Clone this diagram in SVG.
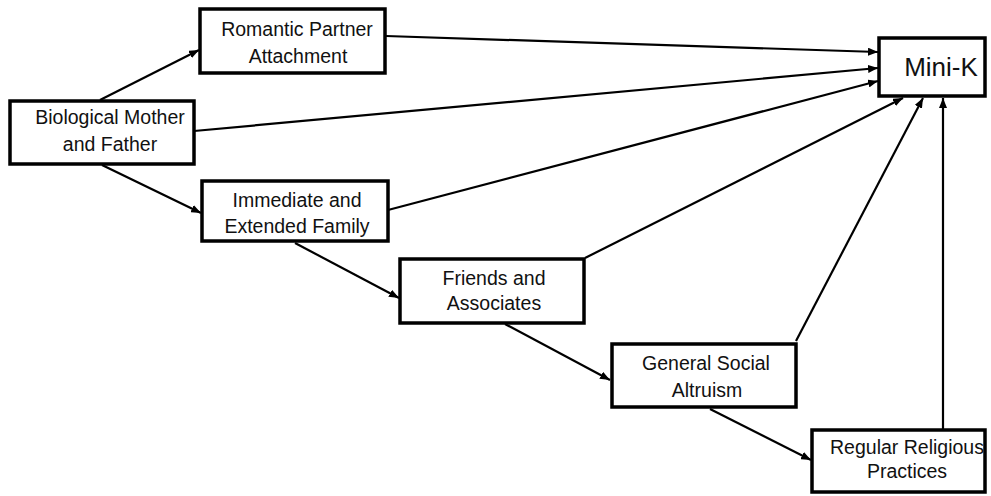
<svg xmlns="http://www.w3.org/2000/svg" width="991" height="496" viewBox="0 0 991 496">
<style>
.box{fill:#fff;stroke:#000;stroke-width:3.5}
.t{font-family:"Liberation Sans",Arial,sans-serif;font-size:19.5px;fill:#111;text-anchor:middle}
.big{font-size:26px}
.c{stroke:#000;stroke-width:2.2;fill:none;marker-end:url(#ah)}
</style>
<defs>
<marker id="ah" markerUnits="userSpaceOnUse" markerWidth="10" markerHeight="8" refX="10" refY="4" orient="auto">
<path d="M0,0 L10,4 L0,8 z" fill="#000"/>
</marker>
</defs>
<rect width="991" height="496" fill="#fff"/>
<g id="connectors">
<line class="c" x1="100" y1="100" x2="199" y2="50"/>
<line class="c" x1="102" y1="165" x2="201" y2="213"/>
<line class="c" x1="386" y1="36" x2="878" y2="52"/>
<line class="c" x1="194" y1="131" x2="878" y2="68"/>
<line class="c" x1="388" y1="210" x2="878" y2="81"/>
<line class="c" x1="585" y1="258" x2="903" y2="98"/>
<line class="c" x1="796" y1="341" x2="923" y2="98"/>
<line class="c" x1="943" y1="429" x2="943" y2="98"/>
<line class="c" x1="295" y1="243" x2="399" y2="298"/>
<line class="c" x1="505" y1="324" x2="610" y2="380"/>
<line class="c" x1="710" y1="409" x2="811" y2="460"/>
</g>
<g id="romantic">
<rect class="box" x="200" y="9" width="185" height="64"/>
<text class="t" x="297" y="36">Romantic Partner</text>
<text class="t" x="298" y="63">Attachment</text>
</g>
<g id="biological">
<rect class="box" x="10" y="101" width="184" height="63"/>
<text class="t" x="110" y="124">Biological Mother</text>
<text class="t" x="110" y="151">and Father</text>
</g>
<g id="immediate">
<rect class="box" x="202" y="181" width="186" height="60"/>
<text class="t" x="297" y="207">Immediate and</text>
<text class="t" x="297" y="233">Extended Family</text>
</g>
<g id="friends">
<rect class="box" x="400" y="259" width="184" height="64"/>
<text class="t" x="494" y="285">Friends and</text>
<text class="t" x="494" y="310">Associates</text>
</g>
<g id="general">
<rect class="box" x="612" y="344" width="184" height="63"/>
<text class="t" x="706" y="370">General Social</text>
<text class="t" x="707" y="397">Altruism</text>
</g>
<g id="regular">
<rect class="box" x="812" y="430" width="173" height="62"/>
<text class="t" x="907" y="454">Regular Religious</text>
<text class="t" x="907" y="478">Practices</text>
</g>
<g id="minik">
<rect class="box" x="879" y="38" width="106" height="58"/>
<text class="t big" x="941" y="76">Mini-K</text>
</g>
</svg>
